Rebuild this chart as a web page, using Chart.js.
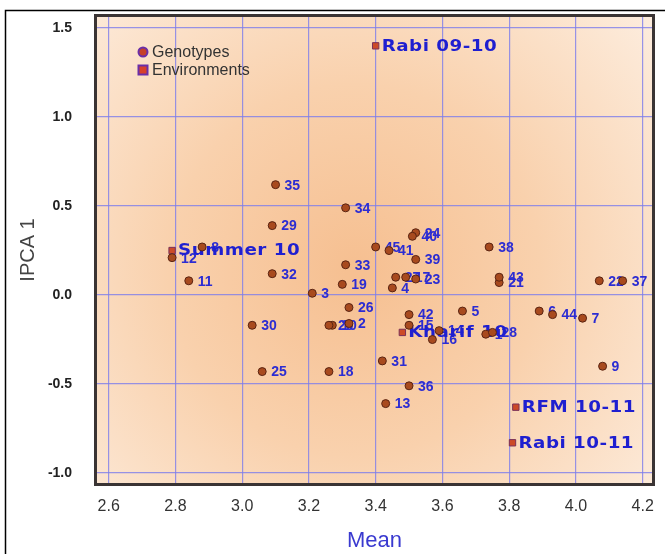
<!DOCTYPE html>
<html><head><meta charset="utf-8">
<script src="https://cdn.jsdelivr.net/npm/chart.js@4.4.1/dist/chart.umd.min.js"></script>
<style>html,body{margin:0;padding:0;background:#fff;}#wrap{width:665px;height:554px;position:relative;}</style>
</head><body><div id="wrap"><canvas id="c" width="665" height="554"></canvas></div>
<script>
// ---- data ----
const genotypeLabels = ['1','2','3','4','5','6','7','8','9','10','11','12','13','14','15','16','17','18','19','20','21','22','23','24','25','26','27','28','29','30','31','32','33','34','35','36','37','38','39','40','41','42','43','44','45'];
const genotypeMean = [3.73,3.32,3.21,3.45,3.66,3.89,4.02,2.88,4.08,3.27,2.84,2.79,3.43,3.59,3.50,3.57,3.49,3.26,3.30,3.26,3.77,4.07,3.52,3.52,3.06,3.32,3.46,3.75,3.09,3.03,3.42,3.09,3.31,3.31,3.10,3.50,4.14,3.74,3.52,3.51,3.44,3.50,3.77,3.93,3.40];
const genotypeIPCA = [-0.22,-0.16,0.01,0.04,-0.09,-0.09,-0.13,0.27,-0.40,-0.17,0.08,0.21,-0.61,-0.20,-0.17,-0.25,0.10,-0.43,0.06,-0.17,0.07,0.08,0.09,0.35,-0.43,-0.07,0.10,-0.21,0.39,-0.17,-0.37,0.12,0.17,0.49,0.62,-0.51,0.08,0.27,0.20,0.33,0.25,-0.11,0.10,-0.11,0.27];
const envLabels = ['Rabi 09-10','Summer 10','Kharif 10','RFM 10-11','Rabi 10-11'];
const envMean = [3.40,2.79,3.48,3.82,3.81];
const envIPCA = [1.40,0.25,-0.21,-0.63,-0.83];
const xTicks = [2.6,2.8,3.0,3.2,3.4,3.6,3.8,4.0,4.2];
const yTicks = [-1.0,-0.5,0.0,0.5,1.0,1.5];

const gridColor = 'rgba(125,125,235,0.8)';
const labelBlue = '#2c2cd2';

const bgPlugin = {
  id: 'bg',
  beforeDraw(chart) {
    const {ctx, chartArea: a} = chart;
    ctx.save();
    ctx.fillStyle = '#fff';
    ctx.fillRect(0, 0, chart.width, chart.height);
    const cx = (a.left + a.right) / 2 - 20, cy = (a.top + a.bottom) / 2 + 20;
    const g = ctx.createRadialGradient(cx, cy, 10, cx, cy, 400);
    g.addColorStop(0, '#f6c092');
    g.addColorStop(0.45, '#f9d1ad');
    g.addColorStop(1, '#fdeee0');
    ctx.fillStyle = g;
    ctx.fillRect(a.left, a.top, a.right - a.left, a.bottom - a.top);
    ctx.strokeStyle = '#000';
    ctx.lineWidth = 1.5;
    ctx.beginPath();
    ctx.moveTo(5.5, chart.height);
    ctx.lineTo(5.5, 10.5);
    ctx.lineTo(chart.width, 10.5);
    ctx.stroke();
    ctx.restore();
  }
};

const labelPlugin = {
  id: 'pointLabels',
  beforeDatasetsDraw(chart) {
    const ctx = chart.ctx;
    chart.data.datasets.forEach((ds, di) => {
      const meta = chart.getDatasetMeta(di);
      meta.data.forEach((el, i) => {
        const txt = ds.pointNames[i];
        ctx.save();
        ctx.textBaseline = 'middle';
        ctx.textAlign = 'left';
        if (di === 0) {
          ctx.font = 'bold 14px "Liberation Sans", Arial, sans-serif';
          ctx.fillStyle = labelBlue;
          ctx.fillText(txt, el.x + 9, el.y + 1);
        } else {
          ctx.font = 'bold 15px "DejaVu Sans", Verdana, sans-serif';
          ctx.fillStyle = '#1f1fd0';
          if ('letterSpacing' in ctx) ctx.letterSpacing = '0.4px';
          ctx.translate(el.x + 6, el.y + 1);
          ctx.scale(1.22, 1);
          ctx.fillText(txt, 0, 0);
        }
        ctx.restore();
      });
    });
  }
};

const framePlugin = {
  id: 'frame',
  afterDraw(chart) {
    const {ctx, chartArea: a} = chart;
    ctx.save();
    ctx.strokeStyle = '#3a3434';
    ctx.lineWidth = 3;
    ctx.strokeRect(a.left - 1.5, a.top - 1.5, a.right - a.left + 3, a.bottom - a.top + 3);
    const ds = chart.data.datasets;
    const lx = 143, ly0 = 52, ly1 = 70;
    ctx.lineWidth = 2;
    ctx.strokeStyle = '#6a2ea8';
    ctx.fillStyle = '#c5402a';
    ctx.beginPath(); ctx.arc(lx, ly0, 4.5, 0, Math.PI * 2); ctx.fill(); ctx.stroke();
    ctx.fillStyle = '#d8402a';
    ctx.fillRect(lx - 4.5, ly1 - 4.5, 9, 9);
    ctx.strokeRect(lx - 4.5, ly1 - 4.5, 9, 9);
    ctx.fillStyle = '#333';
    ctx.font = '16px "Liberation Sans", Arial, sans-serif';
    ctx.textBaseline = 'middle';
    ctx.fillText(ds[0].label, lx + 9, ly0 + 1);
    ctx.fillText(ds[1].label, lx + 9, ly1 + 1);
    ctx.restore();
  }
};

const toPts = (xs, ys) => xs.map((x, i) => ({x, y: ys[i]}));

new Chart(document.getElementById('c'), {
  type: 'scatter',
  data: {
    datasets: [
      {
        label: 'Genotypes',
        pointNames: genotypeLabels,
        data: toPts(genotypeMean, genotypeIPCA),
        pointStyle: 'circle',
        pointRadius: 4,
        pointHoverRadius: 4,
        backgroundColor: '#a84a1e',
        borderColor: '#5a2412',
        borderWidth: 1
      },
      {
        label: 'Environments',
        pointNames: envLabels,
        data: toPts(envMean, envIPCA),
        pointStyle: 'rect',
        pointRadius: 4.5,
        pointHoverRadius: 4.5,
        backgroundColor: '#cc4a28',
        borderColor: '#7a3058',
        borderWidth: 1
      }
    ]
  },
  options: {
    responsive: false,
    animation: false,
    events: [],
    layout: {autoPadding: false, padding: {left: 0, top: 17, right: 13, bottom: 0}},
    plugins: {legend: {display: false}, tooltip: {enabled: false}},
    scales: {
      x: {
        type: 'linear', min: 2.565, max: 4.228,
        afterBuildTicks: s => { s.ticks = xTicks.map(v => ({value: v})); },
        afterFit: s => { s.height = 71; s.paddingLeft = 0; s.paddingRight = 0; },
        grid: {color: gridColor, lineWidth: 1.2, drawTicks: false},
        border: {display: false},
        ticks: {padding: 14, color: '#333', autoSkip: false, maxRotation: 0,
          font: {family: '"Liberation Sans", Arial, sans-serif', size: 16},
          callback: v => Number(v).toFixed(1)},
        title: {display: true, text: 'Mean', color: '#3a3ad0',
          font: {family: '"Liberation Sans", Arial, sans-serif', size: 22},
          padding: {top: 0, bottom: 0}}
      },
      y: {
        type: 'linear', min: -1.056, max: 1.562,
        afterBuildTicks: s => { s.ticks = yTicks.map(v => ({value: v})); },
        afterFit: s => { s.width = 97; s.paddingTop = 0; s.paddingBottom = 0; },
        grid: {color: gridColor, lineWidth: 1.2, drawTicks: false},
        border: {display: false},
        ticks: {padding: 25, color: '#222', autoSkip: false,
          font: {family: '"Liberation Sans", Arial, sans-serif', size: 14, weight: 'bold'},
          callback: v => Number(v).toFixed(1)},
        title: {display: true, text: 'IPCA 1', color: '#444',
          font: {family: '"Liberation Sans", Arial, sans-serif', size: 20},
          padding: {top: 16, bottom: 0}}
      }
    }
  },
  plugins: [bgPlugin, labelPlugin, framePlugin]
});
</script>
</body></html>
